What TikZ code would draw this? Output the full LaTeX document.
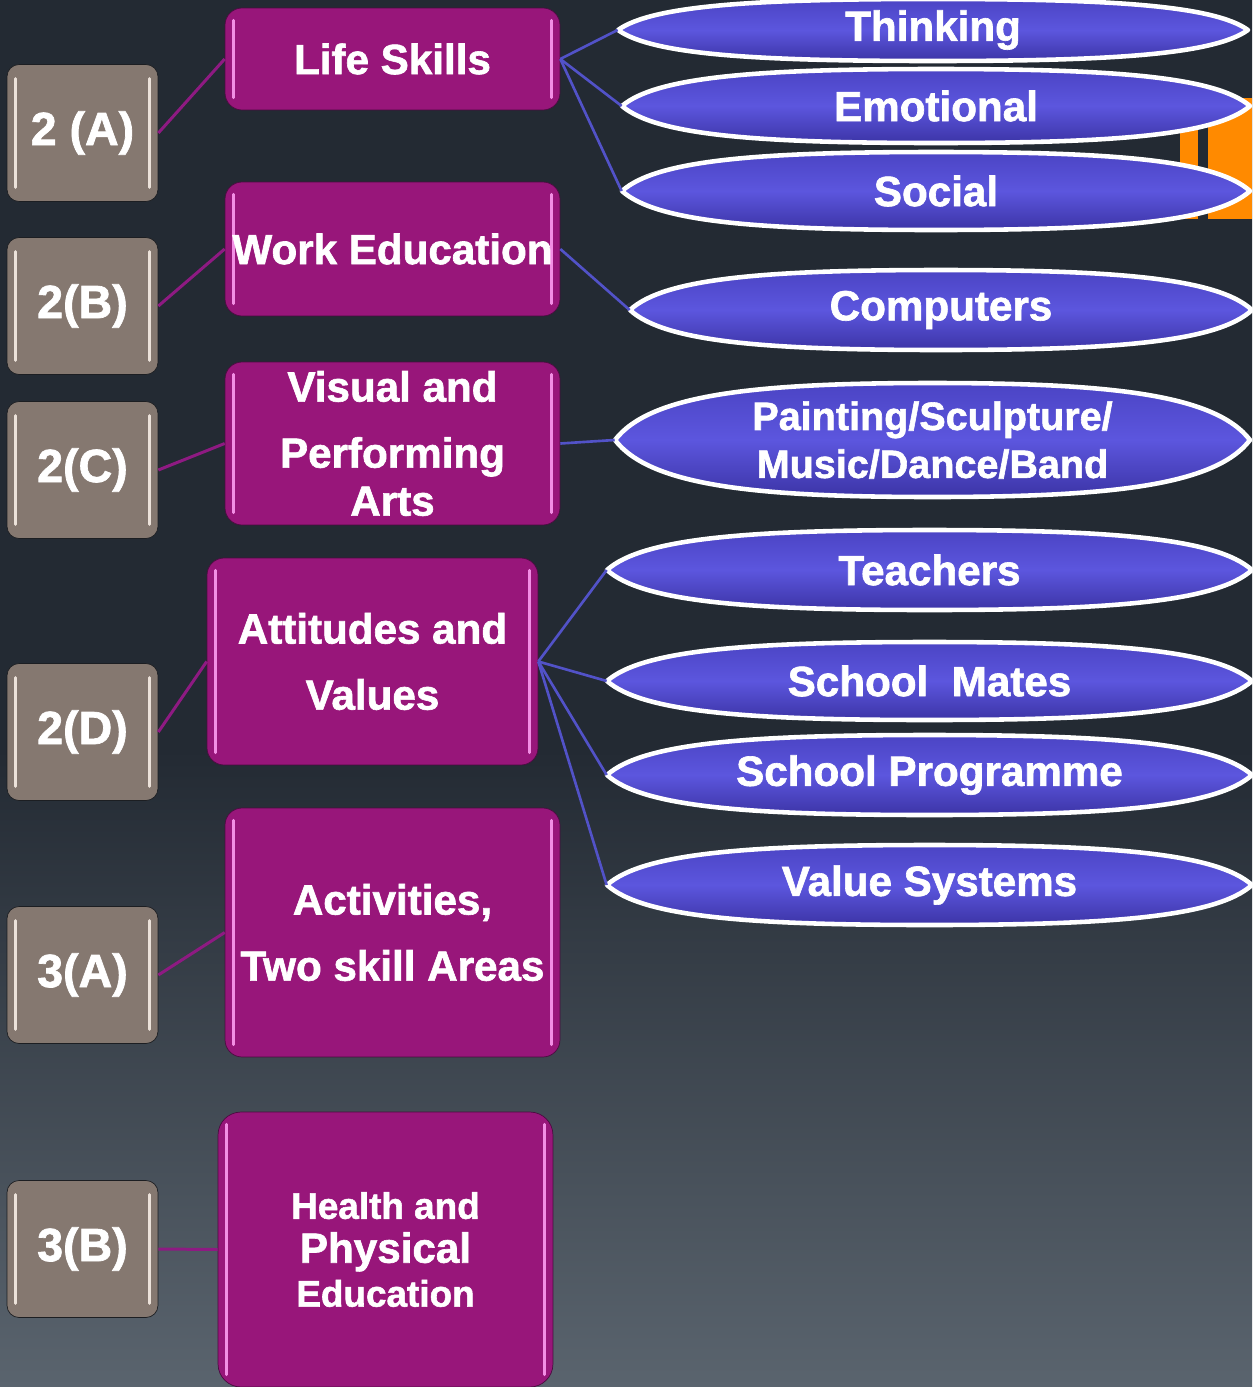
\documentclass[tikz,border=0pt]{standalone}
\usepackage{fontspec}
\setmainfont{Liberation Sans}[BoldFeatures={FakeBold=1.5}]
\usepackage{xcolor}
\usepackage{tikz}
\usetikzlibrary{positioning, shapes}

\definecolor{bgtop}{HTML}{232A33}
\definecolor{bgbot}{HTML}{5A646E}
\definecolor{codefill}{HTML}{857870}
\definecolor{codeedge}{HTML}{1C1E22}
\definecolor{codeglow}{HTML}{ECE2DA}
\definecolor{areafill}{HTML}{98167A}
\definecolor{areaedge}{HTML}{4A0C40}
\definecolor{areaglow}{HTML}{F28EE4}
\definecolor{subtop}{HTML}{4B44C4}
\definecolor{submid}{HTML}{5C56DE}
\definecolor{subbot}{HTML}{3C34A6}
\definecolor{codeline}{HTML}{8E1A82}
\definecolor{subline}{HTML}{5252C8}
\definecolor{slideorange}{HTML}{FF8A00}

\pgfdeclareverticalshading{bgfade}{100bp}{color(0bp)=(bgbot); color(25bp)=(bgbot); color(48bp)=(bgtop); color(100bp)=(bgtop)}

% lens shaped body: centre x, centre y, width, height (in px units)
\newcommand{\lensshape}[4]{%
  \path[lensbody] (#1-#3/2,#2)
    .. controls (#1-0.445*#3,#2-0.4*#4) and (#1-0.28*#3,#2-0.5*#4) .. (#1,#2-0.5*#4)
    .. controls (#1+0.28*#3,#2-0.5*#4) and (#1+0.445*#3,#2-0.4*#4) .. (#1+#3/2,#2)
    .. controls (#1+0.445*#3,#2+0.4*#4) and (#1+0.28*#3,#2+0.5*#4) .. (#1,#2+0.5*#4)
    .. controls (#1-0.28*#3,#2+0.5*#4) and (#1-0.445*#3,#2+0.4*#4) .. cycle;}

\begin{document}
\begin{tikzpicture}[x=0.02cm, y=-0.02cm,
    code/.style={draw=codeedge, fill=codefill, rounded corners=0.24cm, minimum width=3.02cm,
      minimum height=2.74cm, inner sep=0pt, text=white, font=\bfseries\fontsize{26.5}{30}\selectfont,
      path picture={
        \draw[codeshine] ([xshift=5pt,yshift=-8pt]path picture bounding box.north west) -- ([xshift=5pt,yshift=8pt]path picture bounding box.south west);
        \draw[codeshine] ([xshift=-5pt,yshift=-8pt]path picture bounding box.north east) -- ([xshift=-5pt,yshift=8pt]path picture bounding box.south east);}},
    codeshine/.style={draw=codeglow, line width=1.6pt, line cap=round},
    area/.style={draw=areaedge, fill=areafill, rounded corners=0.34cm, inner sep=0pt, text=white,
      align=center, font=\bfseries\fontsize{24}{27.3}\selectfont,
      path picture={
        \draw[areashine] ([xshift=5pt,yshift=-7pt]path picture bounding box.north west) -- ([xshift=5pt,yshift=7pt]path picture bounding box.south west);
        \draw[areashine] ([xshift=-5pt,yshift=-7pt]path picture bounding box.north east) -- ([xshift=-5pt,yshift=7pt]path picture bounding box.south east);}},
    areashine/.style={draw=areaglow, line width=1.6pt, line cap=round},
    lensbody/.style={top color=subtop, bottom color=subbot, middle color=submid, draw=white,
      line width=2.6pt, line join=round},
    subtext/.style={inner sep=0pt, minimum height=1cm, text=white, align=center,
      font=\bfseries\fontsize{24}{27.3}\selectfont},
    codelink/.style={draw=codeline, line width=1.7pt},
    sublink/.style={draw=subline, line width=1.5pt}]

  % page and background
  \useasboundingbox (0,0) rectangle (1252,1387);
  \fill[shading=bgfade] (0,0) rectangle (1252,1387);
  \fill[slideorange] (1180,98) rectangle (1198,219);
  \fill[slideorange] (1208,98) rectangle (1252,219);

  % left column
  \foreach \c/\y/\t in {2A/133/2 (A), 2B/306/2(B), 2C/470/2(C), 2D/732/2(D), 3A/975/3(A), 3B/1249/3(B)}
    \node [code] (code-\c) at (82.5,\y) {\t};

  % middle column
  \node [area, minimum width=6.7cm, minimum height=2.04cm] (area-life) at (392.5,59) {Life Skills};
  \node [area, minimum width=6.7cm, minimum height=2.68cm] (area-work) at (392.5,249) {Work Education};
  \node [area, minimum width=6.7cm, minimum height=3.26cm] (area-arts) at (392.5,443.5)
    {Visual and\\[10.3pt]Performing\\Arts};
  \node [area, minimum width=6.62cm, minimum height=4.14cm] (area-attitude) at (372.5,661.5)
    {Attitudes and\\[10.3pt]Values};
  \node [area, minimum width=6.7cm, minimum height=4.98cm] (area-activity) at (392.5,932.5)
    {Activities,\\[10.3pt]Two skill Areas};
  \node [area, rounded corners=0.46cm, minimum width=6.7cm, minimum height=5.5cm,
    font=\bfseries\fontsize{21}{25}\selectfont] (area-health) at (385.5,1249.5)
    {Health and\\{\fontsize{24}{25}\selectfont Physical}\\Education};

  % right column
  \foreach \n/\x/\y/\w/\h/\t in {think/933/30/630/62/Thinking, emotion/936/106/628/74/Emotional,
      social/936/191/628/78/Social, computer/941/310/622/80/Computers,
      teacher/929.5/570/645/80/Teachers, mates/929.5/681/645/78/School~~Mates,
      programme/929.5/775/645/80/School Programme, values/929.5/885/645/80/Value Systems} {
    \lensshape{\x}{\y}{\w}{\h}
    \node [subtext, minimum width=\w*0.02cm] (sub-\n) at (\x,\y) {\t};
  }
  \lensshape{932.5}{440}{635}{114}
  \node [subtext, minimum width=12.7cm, font=\bfseries\fontsize{22.5}{27.3}\selectfont] (sub-arts) at (932.5,440)
    {Painting/Sculpture/\\Music/Dance/Band};

  % connectors
  \foreach \c/\a in {2A/life, 2B/work, 2C/arts, 2D/attitude, 3A/activity, 3B/health}
    \draw [codelink] (code-\c.east) -- (area-\a.west);

  \foreach \a/\s in {life/think, life/emotion, life/social, work/computer, arts/arts,
      attitude/teacher, attitude/mates, attitude/programme, attitude/values}
    \draw [sublink] (area-\a.east) -- (sub-\s.west);

\end{tikzpicture}
\end{document}
